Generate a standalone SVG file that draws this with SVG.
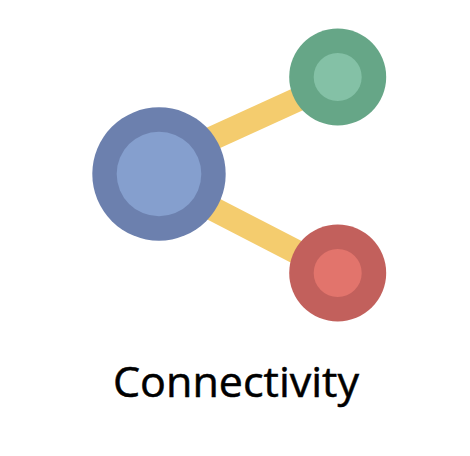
<svg xmlns="http://www.w3.org/2000/svg" width="470" height="456" viewBox="0 0 470 456">
<style>
.link{stroke:#f4cc6e;stroke-width:24;fill:none}
.label{font-family:"Open Sans","Noto Sans","Liberation Sans",sans-serif;font-size:42px;fill:#000;stroke:#000;stroke-width:0.5px}
</style>
<rect width="470" height="456" fill="#fff"/>
<g id="connectors">
<line class="link" x1="190" y1="148.500" x2="315" y2="91.500"/>
<line class="link" x1="190" y1="197" x2="315" y2="261.500"/>
</g>
<g id="node-hub">
<circle cx="159" cy="174" r="66.700" fill="#6c80ae"/>
<circle cx="159" cy="174" r="42.300" fill="#859fce"/>
</g>
<g id="node-green">
<circle cx="337.700" cy="77" r="48.500" fill="#66a687"/>
<circle cx="337.700" cy="77" r="24" fill="#84c1a6"/>
</g>
<g id="node-red">
<circle cx="337.700" cy="273" r="48.500" fill="#c2605c"/>
<circle cx="337.700" cy="273" r="24" fill="#e2746c"/>
</g>
<g id="caption">
<text class="label" x="113" y="397" textLength="246" lengthAdjust="spacingAndGlyphs">Connectivity</text>
</g>
</svg>
